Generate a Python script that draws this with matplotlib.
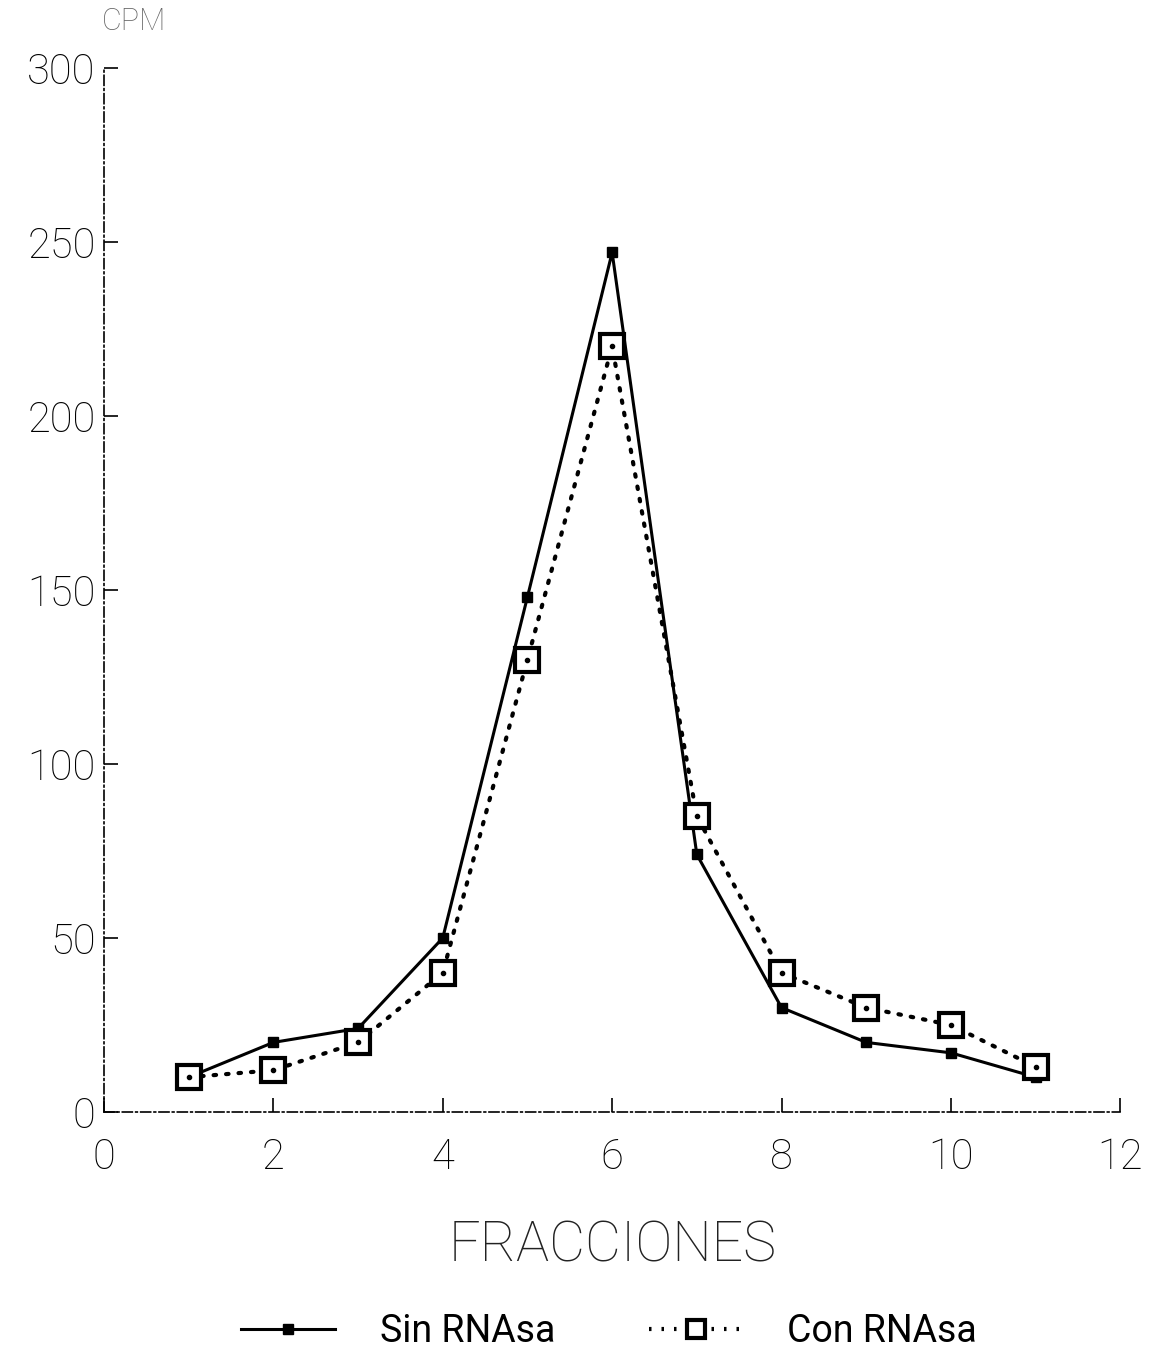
import numpy as np
import matplotlib.pyplot as plt
from matplotlib.lines import Line2D

fracciones = [1, 2, 3, 4, 5, 6, 7, 8, 9, 10, 11]
sin_rnasa = [10, 20, 24, 50, 148, 247, 74, 30, 20, 17, 10]
con_rnasa = [10, 12, 20, 40, 130, 220, 85, 40, 30, 25, 13]

xticks = [0, 2, 4, 6, 8, 10, 12]
yticks = [0, 50, 100, 150, 200, 250, 300]

plt.rcParams['font.family'] = ['Roboto', 'DejaVu Sans']
plt.rcParams['font.weight'] = 'light'

fig = plt.figure(figsize=(11.49, 13.5), dpi=100)
ax = fig.add_axes([0.0905, 0.1763, 0.8845, 0.7733])

ax.plot(fracciones, sin_rnasa, '-', color='black', lw=2.2, marker='s', ms=7,
        mfc='black', mec='black', zorder=3)
ax.plot(fracciones, con_rnasa, color='black', lw=3, ls=(0, (0.6, 2.4)),
        dash_capstyle='round', zorder=2)
ax.plot(fracciones, con_rnasa, ls='none', marker='s', ms=17, mfc='white',
        mec='black', mew=3, zorder=4)
ax.plot(fracciones, con_rnasa, ls='none', marker='.', ms=6, color='black', zorder=5)

ax.set_xlim(0, 12)
ax.set_ylim(0, 300)
ax.set_xticks(xticks)
ax.set_yticks(yticks)
for s in ['top', 'right']:
    ax.spines[s].set_visible(False)
for s in ['left', 'bottom']:
    ax.spines[s].set_linewidth(1.2)
    ax.spines[s].set_linestyle((0, (6, 2, 1, 2)))
ax.tick_params(direction='in', length=10, width=1.2, labelsize=30, pad=18,
               labelcolor='black')
ax.tick_params(axis='y', pad=6)

ax.set_xlabel('FRACCIONES', fontsize=40, labelpad=30, color='#222222',
              fontweight='light')
fig.text(0.089, 0.978, 'CPM', fontsize=22, color='#666666', fontweight='light')

handles = [
    Line2D([], [], color='black', lw=2.2, marker='s', ms=7),
    Line2D([], [], color='black', lw=3, ls=(0, (0.6, 2.4)), marker='s', ms=13,
           mfc='white', mec='black', mew=3),
]
leg = fig.legend(handles, ['Sin RNAsa', 'Con RNAsa'], loc='lower center',
                 bbox_to_anchor=(0.53, -0.025), ncol=2, frameon=False,
                 fontsize=27, handlelength=2.5, columnspacing=2.5,
                 handletextpad=1.2)
for t in leg.get_texts():
    t.set_fontweight('normal')

fig.savefig('out.png', dpi=100, facecolor='white')
